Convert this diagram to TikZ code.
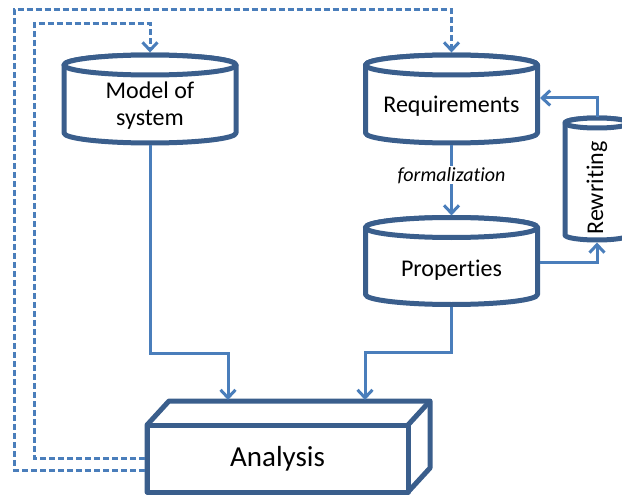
\documentclass[tikz,border=0pt]{standalone}
\usepackage{fontspec}
\setmainfont{Carlito}[Ligatures=NoCommon]
\usetikzlibrary{arrows.meta,calc}
\definecolor{cyldark}{HTML}{3A5E8C}
\definecolor{connblue}{HTML}{4A7EBB}
\tikzset{
  cylbody/.style={draw=none, inner sep=0pt, outer sep=0pt},
  cylline/.style={draw=cyldark, line width=5pt, fill=white, line join=round},
  conn/.style={draw=connblue, line width=3pt, -{Straight Barb[length=8pt,width=15pt]}},
  dconn/.style={conn, dash pattern=on 6pt off 3pt},
  lbl/.style={font=\fontsize{24}{27}\selectfont, align=center, inner sep=0pt},
  flbl/.style={font=\fontsize{20}{24}\selectfont\itshape, fill=white, inner sep=1pt},
  albl/.style={font=\fontsize{29}{34}\selectfont, inner sep=0pt},
}
\newcommand\drawcyl[3]{%
  \draw[cylline] (#1.north west) -- (#1.south west)
    arc[start angle=180, end angle=360, x radius=#2, y radius=#3]
    -- (#1.north east)
    arc[start angle=0, end angle=180, x radius=#2, y radius=#3] -- cycle;
  \draw[cylline] (#1.north) ellipse[x radius=#2, y radius=#3];
}
\begin{document}
\begin{tikzpicture}[x=1pt, y=-1pt]
\useasboundingbox (0,0) rectangle (622,495);
\clip (0,0) rectangle (622,495);

% cylinders
\node[cylbody, minimum width=172pt, minimum height=68pt] (model) at (150,99) {};
\drawcyl{model}{86pt}{10pt}
\node[lbl] (modeltxt) at ($(model.center)+(0,7)$) {Model of\\system};

\node[cylbody, minimum width=172pt, minimum height=68pt] (req) at (451.5,99) {};
\drawcyl{req}{86pt}{10pt}
\node[lbl, anchor=base] (reqtxt) at ($(req.center)+(0,14)$) {Requirements};

\node[cylbody, minimum width=172pt, minimum height=67pt] (prop) at (451.5,261) {};
\drawcyl{prop}{86pt}{10pt}
\node[lbl, anchor=base] (proptxt) at ($(prop.center)+(0,15)$) {Properties};

\node[cylbody, minimum width=64pt, minimum height=112pt] (rew) at (597,179) {};
\drawcyl{rew}{32pt}{5pt}
\node[lbl, rotate=90] (rewtxt) at (597,188) {Rewriting};

% analysis box
\node[cylbody, minimum width=261pt, minimum height=67pt] (ana) at (277.5,458.5) {};
\draw[cylline] (ana.north west) -- ($(ana.north west)+(22,-24)$) -- ($(ana.north east)+(22,-24)$)
  -- ($(ana.south east)+(22,-24)$) -- (ana.south east) -- (ana.south west) -- cycle;
\draw[cylline] (ana.north west) rectangle (ana.south east);
\draw[cylline] (ana.north east) -- ($(ana.north east)+(22,-24)$);
\node[albl] (anatxt) at (ana.center) {Analysis};

% connectors
\draw[conn] ($(model.south)+(0,12)$) -- ++(0,208) -| ($(ana.north west)+(81,-25)$);
\draw[conn] ($(prop.south)+(0,12)$) -- ++(0,46) -| ($(ana.north west)+(218,-25)$);
\draw[conn] ($(req.south)+(0,12)$) -- ($(prop.north)+(0,-12)$)
  node[flbl, pos=0.43] (form) {formalization};
\draw[conn] ($(rew.north)+(0,-6)$) |- ($(req.east)+(2.5,-1)$);
\draw[conn] ($(prop.east)+(2.5,1)$) -| ($(rew.south)+(0,7.5)$);

% dashed feedback
\coordinate (outerC) at (14,10);
\coordinate (innerC) at (34,24);
\draw[dconn] ($(ana.west)+(-2.5,11.5)$) -| (outerC) -| ($(req.north)+(0,-12.5)$);
\draw[dconn] ($(ana.west)+(-2.5,-0.5)$) -| (innerC) -| ($(model.north)+(0,-12.5)$);
\end{tikzpicture}
\end{document}
